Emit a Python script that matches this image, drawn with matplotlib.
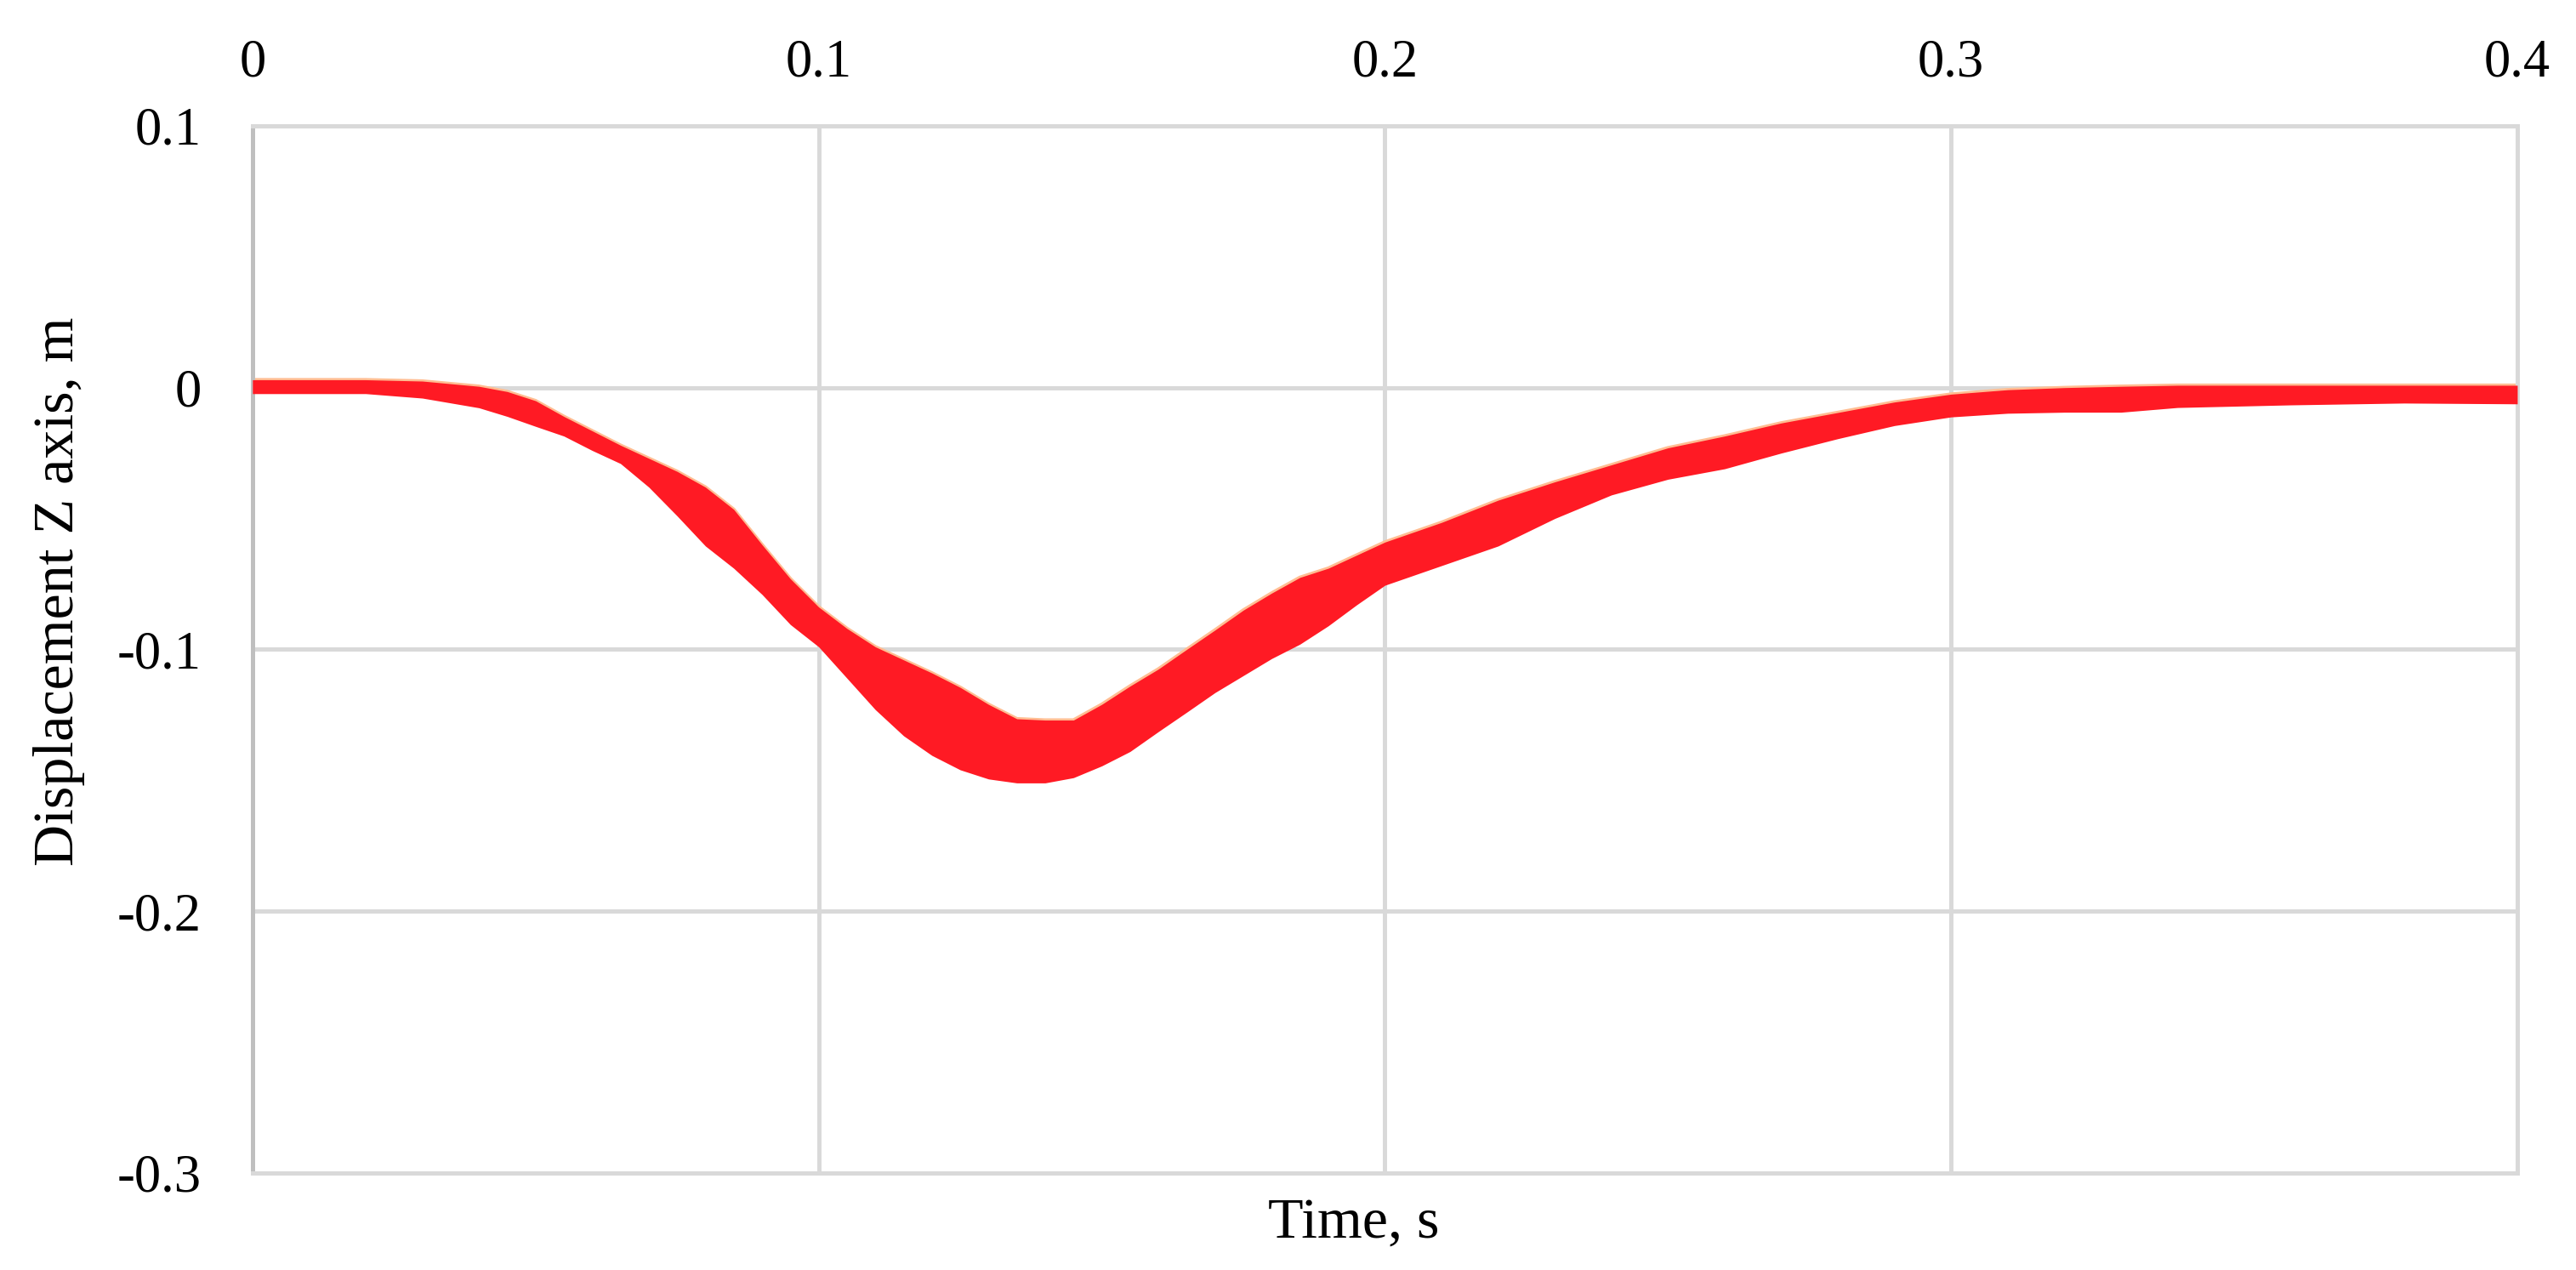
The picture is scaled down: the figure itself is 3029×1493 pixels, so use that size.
#!/usr/bin/env python3
# -*- coding: utf-8 -*-
"""
Displacement along Z axis vs time (red envelope band)
"""

import matplotlib
matplotlib.use('Agg')
import matplotlib.pyplot as plt
import numpy as np

# 字体设置
plt.rcParams['font.family'] = ['Liberation Serif', 'DejaVu Serif']
plt.rcParams['axes.unicode_minus'] = False

# 数据 (从图中读取的包络线)
time_s = [0.0, 0.01, 0.02, 0.03, 0.04, 0.045, 0.05, 0.055, 0.06, 0.065,
          0.07, 0.075, 0.08, 0.085, 0.09, 0.095, 0.1, 0.105, 0.11, 0.115,
          0.12, 0.125, 0.13, 0.135, 0.14, 0.145, 0.15, 0.155, 0.16, 0.165,
          0.17, 0.175, 0.18, 0.185, 0.19, 0.195, 0.2, 0.21, 0.22, 0.23,
          0.24, 0.25, 0.26, 0.27, 0.28, 0.29, 0.30, 0.31, 0.32, 0.33,
          0.34, 0.36, 0.38, 0.40]

z_upper = [0.003, 0.003, 0.003, 0.0025, 0.0005, -0.0015, -0.005, -0.011, -0.0165, -0.022,
           -0.027, -0.032, -0.038, -0.0465, -0.060, -0.073, -0.0838, -0.092, -0.099, -0.104,
           -0.109, -0.1145, -0.121, -0.1265, -0.127, -0.127, -0.121, -0.114, -0.1075, -0.100,
           -0.0926, -0.085, -0.0785, -0.0725, -0.069, -0.064, -0.059, -0.0515, -0.043, -0.036,
           -0.0295, -0.023, -0.0185, -0.0135, -0.0095, -0.0055, -0.0025, -0.0008, 0.0, 0.0005,
           0.0009, 0.0009, 0.0009, 0.0009]

z_lower = [-0.0023, -0.0023, -0.0023, -0.004, -0.0077, -0.011, -0.0148, -0.0185, -0.024, -0.029,
           -0.038, -0.049, -0.0605, -0.069, -0.079, -0.0905, -0.099, -0.111, -0.123, -0.133,
           -0.1405, -0.146, -0.1495, -0.151, -0.151, -0.149, -0.1445, -0.139, -0.1314, -0.124,
           -0.1165, -0.110, -0.1035, -0.098, -0.091, -0.083, -0.0755, -0.068, -0.0605, -0.050,
           -0.041, -0.035, -0.031, -0.025, -0.0195, -0.0145, -0.0112, -0.0098, -0.0094, -0.0094,
           -0.0076, -0.0066, -0.0059, -0.0062]

x_ticks = [0, 0.1, 0.2, 0.3, 0.4]
x_tick_labels = ['0', '0.1', '0.2', '0.3', '0.4']
y_ticks = [-0.3, -0.2, -0.1, 0, 0.1]
y_tick_labels = ['-0.3', '-0.2', '-0.1', '0', '0.1']

# 配色
RED = '#ff1a24'
PEACH = '#ffbd92'
GRID = '#d9d9d9'
AXIS = '#bfbfbf'


def main():
    fig = plt.figure(figsize=(30.29, 14.93), dpi=100)
    ax = fig.add_axes([0.098, 0.0764, 0.8792, 0.8245])

    t = np.array(time_s)
    up = np.array(z_upper)
    lo = np.array(z_lower)

    # 浅色边缘 + 红色包络带
    ax.plot(t, up, color=PEACH, linewidth=3, zorder=2, solid_capstyle='butt')
    ax.fill_between(t, lo, up, color=RED, linewidth=0, zorder=3)

    ax.set_xlim(0, 0.4)
    ax.set_ylim(-0.3, 0.1)

    ax.xaxis.tick_top()
    ax.set_xticks(x_ticks)
    ax.set_xticklabels(x_tick_labels)
    ax.set_yticks(y_ticks)
    ax.set_yticklabels(y_tick_labels)
    ax.tick_params(axis='x', length=0, pad=32, labelsize=45)
    ax.tick_params(axis='y', length=0, pad=43, labelsize=45)

    ax.grid(True, color=GRID, linewidth=3.6)
    ax.set_axisbelow(True)

    for side in ['top', 'right', 'bottom']:
        ax.spines[side].set_color(GRID)
        ax.spines[side].set_linewidth(3.6)
    ax.spines['left'].set_color(AXIS)
    ax.spines['left'].set_linewidth(3.6)

    # 坐标轴标题
    fig.text(0.5256, 0.0255, 'Time, s', ha='center', va='baseline', fontsize=49)
    fig.text(0.0228, 0.5345, 'Displacement Z axis, m', ha='center', va='center',
             rotation=90, fontsize=49)

    fig.savefig('out.png', dpi=100)
    return 0


if __name__ == '__main__':
    main()
